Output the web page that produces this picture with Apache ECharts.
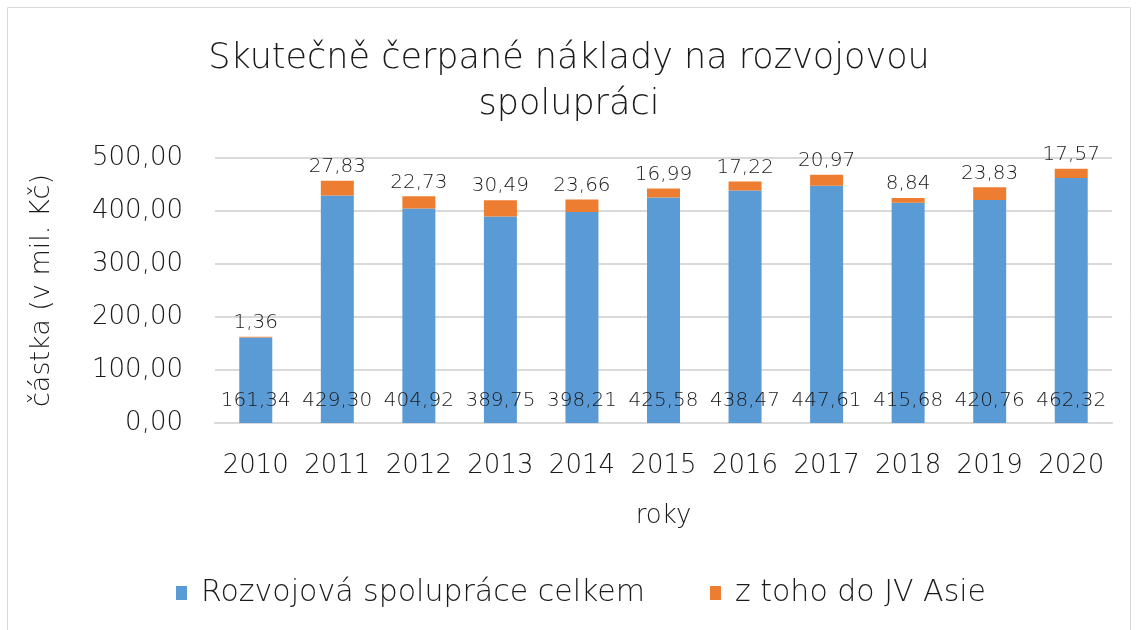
<!DOCTYPE html>
<html>
<head>
<meta charset="utf-8">
<script src="https://cdn.jsdelivr.net/npm/echarts@6/dist/echarts.min.js"></script>
<style>html,body{margin:0;padding:0;background:#fff}#c{width:1138px;height:630px}</style>
</head>
<body>
<div id="c"></div>
<script>
const categories = ['2010','2011','2012','2013','2014','2015','2016','2017','2018','2019','2020'];
const totalValues = [161.34,429.30,404.92,389.75,398.21,425.58,438.47,447.61,415.68,420.76,462.32];
const seaValues = [1.36,27.83,22.73,30.49,23.66,16.99,17.22,20.97,8.84,23.83,17.57];
const seriesNames = ['Rozvojová spolupráce celkem','z toho do JV Asie'];
const titleText = 'Skutečně čerpané náklady na rozvojovou\nspolupráci';

const FONT = '"DejaVu Sans", sans-serif';
const W = 200;
const fmt = v => Number(v).toFixed(2).replace('.', ',');
const chart = echarts.init(document.getElementById('c'));
chart.setOption({
  animation: false,
  textStyle: {fontFamily: FONT, color: '#1a1a1a'},
  graphic: [{type:'rect', shape:{x:7.5,y:7.5,width:1123,height:640}, style:{fill:'none', stroke:'#d9d9d9', lineWidth:1}, silent:true}],
  title: {
    text: titleText, left: 'center', top: 31,
    textStyle: {fontFamily: FONT, fontSize: 35, fontWeight: W, color: '#1a1a1a', lineHeight: 46}
  },
  legend: {
    bottom: 17, left: 171, icon: 'rect', itemWidth: 11, itemHeight: 14, itemGap: 65,
    textStyle: {fontFamily: FONT, fontSize: 30, fontWeight: W, color: '#1a1a1a', padding: [0, 0, 0, 9]}
  },
  grid: {left: 215, right: 26, top: 158, bottom: 207},
  xAxis: {
    type: 'category', data: categories,
    name: 'roky', nameLocation: 'middle', nameGap: 80,
    nameTextStyle: {fontFamily: FONT, fontSize: 26, fontWeight: W, color: '#1a1a1a'},
    axisLine: {lineStyle: {color: '#d9d9d9', width: 2}}, axisTick: {show: false},
    axisLabel: {interval: 0, hideOverlap: false, fontFamily: FONT, fontSize: 26, fontWeight: W, color: '#1a1a1a', margin: 30}
  },
  yAxis: {
    type: 'value', min: 0, max: 500, interval: 100,
    name: 'částka (v mil. Kč)', nameLocation: 'middle', nameGap: 160, nameRotate: 90,
    nameTextStyle: {fontFamily: FONT, fontSize: 27, fontWeight: W, color: '#1a1a1a'},
    axisLine: {show: false}, axisTick: {show: false},
    splitLine: {lineStyle: {color: '#d9d9d9', width: 2}},
    axisLabel: {fontFamily: FONT, fontSize: 26, fontWeight: W, color: '#1a1a1a', margin: 32, formatter: v => fmt(v)}
  },
  series: [
    {
      name: seriesNames[0], type: 'bar', stack: 's', data: totalValues, barWidth: 33,
      itemStyle: {color: '#5B9BD5'},
      label: {show: true, position: 'insideBottom', distance: 12, fontFamily: FONT, fontSize: 20, fontWeight: W, color: '#1a1a1a', formatter: p => fmt(p.value)}
    },
    {
      name: seriesNames[1], type: 'bar', stack: 's', data: seaValues, barWidth: 33,
      itemStyle: {color: '#ED7D31'},
      label: {show: true, position: 'top', distance: 4, fontFamily: FONT, fontSize: 20, fontWeight: W, color: '#1a1a1a', formatter: p => fmt(p.value)}
    }
  ]
});
</script>
</body>
</html>
